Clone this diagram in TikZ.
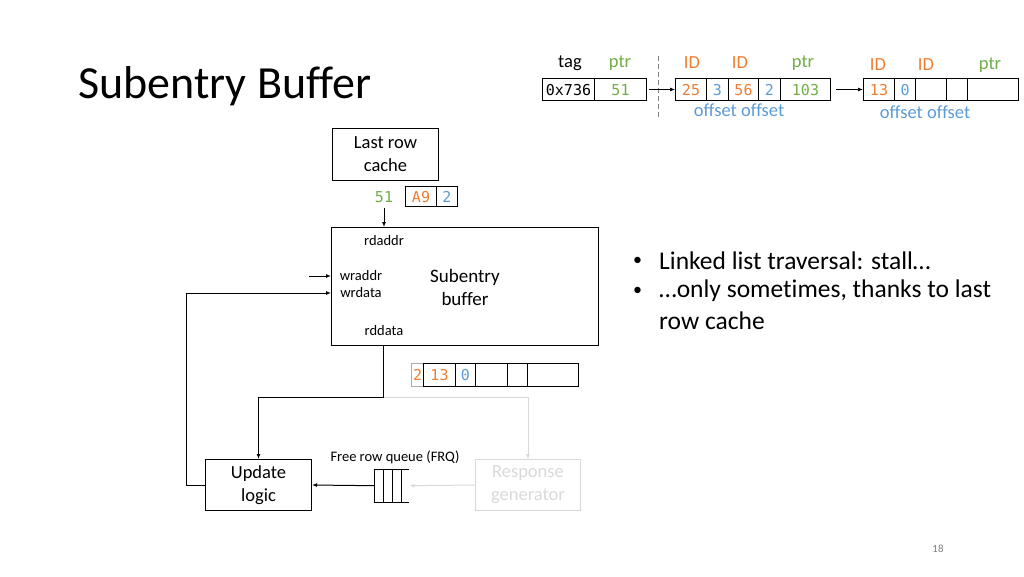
\documentclass[tikz,border=0pt]{standalone}
\usepackage{fontspec}
\setmainfont{Carlito}[Ligatures=NoCommon]
\newfontfamily\monof{DejaVu Sans Mono}
\usetikzlibrary{arrows.meta}
\definecolor{ora}{HTML}{ED7D31}
\definecolor{blu}{HTML}{5B9BD5}
\definecolor{gre}{HTML}{70AD47}
\definecolor{lgr}{HTML}{D9D9D9}
\begin{document}
\begin{tikzpicture}[x=1pt,y=-1pt,
 cell/.style={draw, line width=1pt, inner sep=0pt, anchor=north west, minimum height=22pt, text height=11pt, text depth=0pt, font=\monof\fontsize{15}{15}\selectfont},
 blk/.style={draw, line width=1pt, inner sep=0pt, anchor=north west, align=center, font=\fontsize{18.5}{23}\selectfont},
 lbl/.style={inner sep=0pt, font=\fontsize{18.5}{18.5}\selectfont},
 small/.style={inner sep=0pt, font=\fontsize{14.5}{14.5}\selectfont},
 bul/.style={inner sep=0pt, anchor=west, font=\fontsize{25.5}{25.5}\selectfont},
 arr/.style={-{Latex[length=5pt,width=4pt]}, line width=1pt},
]
\useasboundingbox (0,0) rectangle (1024,576);
% title
\node[font=\fontsize{46}{46}\selectfont, anchor=west, inner sep=0pt] (title) at (78,86) {Subentry Buffer};
% top structure: tag row
\node[cell, minimum width=52pt] (t0) at (542,78) {0x736};
\node[cell, minimum width=52pt, text=gre] (t1) at (594,78) {51};
\node[lbl] (ltag) at (570,63) {tag};
\node[lbl, text=gre] (lptr0) at (620,63) {ptr};
\coordinate (dtop) at (658,56);
\coordinate (dbot) at (658,118);
\draw[gray, dashed, dash pattern=on 5pt off 3pt, line width=0.7pt] (dtop) -- (dbot);
% second row
\node[cell, minimum width=31pt, text=ora] (a0) at (675,78) {25};
\node[cell, minimum width=22pt, text=blu] (a1) at (706,78) {3};
\node[cell, minimum width=30pt, text=ora] (a2) at (728,78) {56};
\node[cell, minimum width=22pt, text=blu] (a3) at (758,78) {2};
\node[cell, minimum width=50pt, text=gre] (a4) at (780,78) {103};
\node[lbl, text=ora] (lid1) at (692,63) {ID};
\node[lbl, text=ora] (lid2) at (740,63) {ID};
\node[lbl, text=gre] (lptr1) at (803,63) {ptr};
\node[lbl, text=blu] (loff1) at (739,110) {offset offset};
% third row
\node[cell, minimum width=31pt, text=ora] (c0) at (863,78) {13};
\node[cell, minimum width=21pt, text=blu] (c1) at (894,78) {0};
\node[cell, minimum width=31pt] (c2) at (915,78) {};
\node[cell, minimum width=21pt] (c3) at (946,78) {};
\node[cell, minimum width=51pt] (c4) at (967,78) {};
\node[lbl, text=ora] (lid3) at (878,65) {ID};
\node[lbl, text=ora] (lid4) at (926,65) {ID};
\node[lbl, text=gre] (lptr2) at (990,65) {ptr};
\node[lbl, text=blu] (loff2) at (925,112) {offset offset};
\draw[arr, line width=0.7pt, shorten <=2pt] (t1.east) -- (a0.west);
\draw[arr, line width=0.7pt, shorten <=5pt] (a4.east) -- (c0.west);
% last row cache
\node[blk, minimum width=106pt, minimum height=52pt] (lrc) at (332,128) {Last row\\cache};
\node[inner sep=0pt, text=gre, font=\monof\fontsize{15}{15}\selectfont] (l51) at (384,197) {51};
\node[cell, minimum width=31pt, minimum height=20pt, text=ora] (r0) at (405,186) {A9};
\node[cell, minimum width=21pt, minimum height=20pt, text=blu] (r1) at (436,186) {2};
% subentry buffer
\node[blk, minimum width=267pt, minimum height=118pt] (sb) at (331,227) {};
\node[align=center, inner sep=0pt, font=\fontsize{19}{23}\selectfont] (sbt) at (465,287) {Subentry\\buffer};
\node[small] (rda) at (384,241) {rdaddr};
\node[small] (wra) at (361,276) {wraddr};
\node[small] (wrd) at (361,293) {wrdata};
\node[small] (rdd) at (384,331) {rddata};
\draw[arr, shorten <=5pt] (l51.south) -- (l51.south |- sb.north);
\coordinate (win) at (309,276);
\draw[arr] (win) -- (win -| sb.west);
% update logic & response generator
\node[blk, minimum width=106pt, minimum height=51pt] (ul) at (205,459) {Update\\logic};
\node[blk, draw=lgr, text=lgr, minimum width=105pt, minimum height=51pt] (rg) at (475,459) {Response\\generator};
\draw[arr] (ul.west) -- ++(-19,0) |- (sb.west |- wrd.west);
\coordinate (jn) at (383,397);
\draw[arr, lgr] (jn) -| (rg.north);
\draw[arr] (sb.south -| jn) -- (jn) -| (ul.north);
% row under buffer
\draw[lgr!50!gray, line width=1pt] (411,363) rectangle (566,386);
\node[inner sep=0pt, anchor=west, text=ora, font=\monof\fontsize{15}{15}\selectfont] (bk) at (413,375) {2};
\node[cell, fill=white, minimum width=32pt, minimum height=23pt, text=ora] (d0) at (423,363) {13};
\node[cell, fill=white, minimum width=20pt, minimum height=23pt, text=blu] (d1) at (455,363) {0};
\node[cell, fill=white, minimum width=32pt, minimum height=23pt] (d2) at (475,363) {};
\node[cell, fill=white, minimum width=20pt, minimum height=23pt] (d3) at (507,363) {};
\node[cell, fill=white, minimum width=51pt, minimum height=23pt] (d4) at (527,363) {};
% free row queue
\node[inner sep=0pt, anchor=north west, minimum width=35pt, minimum height=33pt] (frq) at (374,469) {};
\draw[line width=1pt] (frq.north east) -- (frq.north west) -- (frq.south west) -- (frq.south east);
\draw[line width=1pt] ([xshift=9pt]frq.north west) -- ([xshift=9pt]frq.south west);
\draw[line width=1pt] ([xshift=18pt]frq.north west) -- ([xshift=18pt]frq.south west);
\draw[line width=1pt] ([xshift=27pt]frq.north west) -- ([xshift=27pt]frq.south west);
\node[small] (lfrq) at (395,457) {Free row queue (FRQ)};
\draw[arr] (frq.west) -- (ul.east);
\draw[arr, lgr] (rg.west) -- (frq.east);
% bullets
\node[bul, font=\fontsize{18}{18}\selectfont] (b1) at (633,261) {\textbullet};
\node[bul] (t1b) at (659,261) {Linked list traversal: stall…};
\node[bul, font=\fontsize{18}{18}\selectfont] (b2) at (633,291) {\textbullet};
\node[bul] (t2b) at (659,291) {…only sometimes, thanks to last};
\node[bul] (t3b) at (659,321) {row cache};
% page number
\node[text=gray, inner sep=0pt, font=\fontsize{11}{11}\selectfont] (pg) at (938,549) {18};
\end{tikzpicture}
\end{document}
